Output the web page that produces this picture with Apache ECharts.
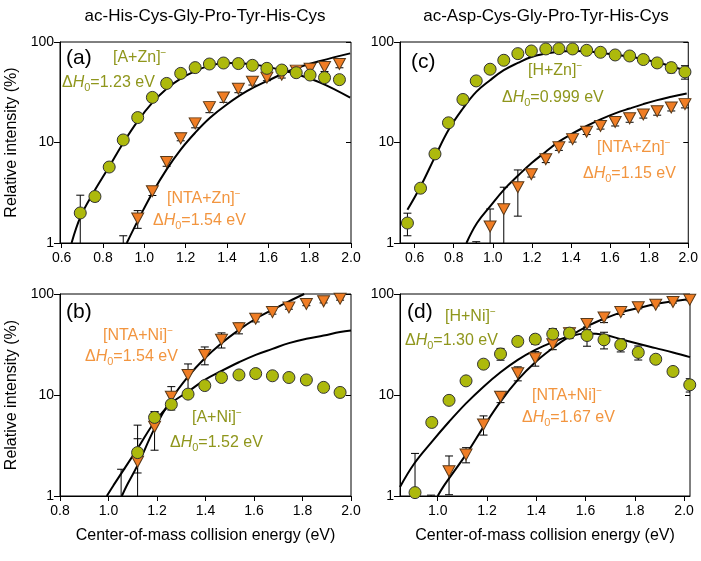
<!DOCTYPE html>
<html>
<head>
<meta charset="utf-8">
<script src="https://cdn.jsdelivr.net/npm/echarts@6/dist/echarts.min.js"></script>
<style>
  html, body { margin: 0; padding: 0; background: #fff; }
  #chart { width: 701px; height: 561px; }
</style>
</head>
<body>
<div id="chart"></div>
<script>
// ---- panel (a): ac-His-Cys-Gly-Pro-Tyr-His-Cys + Zn ----
const aGreenX = [0.69, 0.761, 0.83, 0.898, 0.968, 1.039, 1.108, 1.176, 1.246, 1.315, 1.383, 1.455, 1.523, 1.593, 1.665, 1.735, 1.802, 1.872, 1.944]
const aGreenY = [1.99, 2.9, 5.7, 10.6, 17.7, 28.1, 38.7, 48.7, 55.6, 60.4, 61.8, 61, 58.6, 54.7, 52.6, 49.5, 46.9, 44.2, 42.2]
const aGreenErr = [1.0, 0.3, 0.5, 0.6, 0.8, 1.0, 1.2, 1.5, 1.5, 1.5, 1.5, 1.5, 2, 2, 2.5, 3, 3, 3.5, 3.8]
const aOrangeX = [0.898, 0.968, 1.039, 1.108, 1.176, 1.246, 1.315, 1.383, 1.455, 1.523, 1.593, 1.665, 1.735, 1.802, 1.872, 1.944]
const aOrangeY = [0.85, 1.75, 3.27, 6.4, 11.0, 15.5, 22.5, 28.1, 34.3, 40.3, 44.2, 47.3, 51.9, 54.3, 56.4, 60.4]
const aOrangeErr = [0.33, 0.35, 0.3, 0.6, 0.6, 1.5, 2.7, 3, 3, 3, 3, 3.5, 4, 4.5, 5.5, 5]
const aGreenFitX = [0.648, 0.692, 0.753, 0.831, 0.898, 0.968, 1.039, 1.108, 1.176, 1.246, 1.318, 1.399, 1.496, 1.593, 1.722, 1.851, 1.996]
const aGreenFitY = [1.0, 1.84, 3.15, 5.8, 9.9, 16.3, 24.9, 34.3, 43.2, 51.4, 58.2, 61.8, 60.9, 56.9, 48.7, 39.4, 27.9]
const aOrangeFitX = [0.915, 0.979, 1.039, 1.108, 1.176, 1.246, 1.318, 1.399, 1.496, 1.593, 1.722, 1.851, 1.996]
const aOrangeFitY = [1.0, 1.84, 3.15, 5.4, 8.5, 12.5, 17.6, 23.9, 32.4, 40.8, 53.5, 64.7, 77.1]

// ---- panel (b): ac-His-Cys-Gly-Pro-Tyr-His-Cys + Ni ----
const bGreenX = [1.12, 1.19, 1.259, 1.328, 1.397, 1.466, 1.538, 1.607, 1.676, 1.744, 1.816, 1.887, 1.955]
const bGreenY = [2.69, 6.0, 8.07, 10.2, 12.4, 14.9, 15.8, 16.3, 15.5, 14.9, 14.1, 11.9, 10.6]
const bGreenErr = [1.0, 0.8, 0.5, 0.6, 0.5, 0.5, 0.5, 0.5, 0.5, 0.5, 0.6, 0.6, 1.0]
const bOrangeX = [1.052, 1.12, 1.19, 1.259, 1.328, 1.397, 1.466, 1.538, 1.607, 1.676, 1.744, 1.816, 1.887, 1.955]
const bOrangeY = [0.7, 2.18, 4.84, 9.6, 15.8, 24.9, 35.2, 45.9, 56.9, 66.2, 73.7, 79.6, 84.6, 89.9]
const bOrangeErr = [1.14, 2.85, 2.0, 2.5, 4.5, 5, 6, 5.6, 4, 3, 3, 3, 3, 3]
const bGreenFitX = [0.993, 1.021, 1.12, 1.19, 1.259, 1.328, 1.397, 1.466, 1.538, 1.607, 1.676, 1.744, 1.816, 1.887, 1.955, 2.0]
const bGreenFitY = [1.0, 1.28, 2.95, 5.4, 8.3, 10.8, 14.1, 17.3, 21.1, 25, 28.6, 32.6, 36, 38.8, 42, 43.6]
const bOrangeFitX = [1.055, 1.076, 1.12, 1.19, 1.259, 1.328, 1.397, 1.466, 1.538, 1.607, 1.676, 1.744, 1.807]
const bOrangeFitY = [1.0, 1.28, 2.02, 4.67, 9.1, 15.2, 23.1, 32.6, 44.2, 56.9, 69.8, 84.6, 100]

// ---- panel (c): ac-Asp-Cys-Gly-Pro-Tyr-His-Cys + Zn ----
const cGreenX = [0.563, 0.63, 0.704, 0.773, 0.847, 0.915, 0.986, 1.056, 1.128, 1.197, 1.271, 1.338, 1.408, 1.48, 1.551, 1.626, 1.7, 1.77, 1.841, 1.913, 1.983]
const cGreenY = [1.58, 3.51, 7.7, 15.7, 26.8, 41, 53.6, 65.8, 76.6, 81.4, 85.3, 85.9, 85.3, 82.6, 79, 74.3, 72.6, 66.9, 61.9, 55.6, 50.4]
const cGreenErr = [0.4, 0.3, 0.5, 1, 1.5, 2, 2, 2, 2, 2, 2, 2, 2, 2.5, 3, 3, 3, 4, 5.6, 6.3, 7.7]
const cOrangeX = [0.915, 0.986, 1.056, 1.128, 1.197, 1.271, 1.338, 1.408, 1.48, 1.551, 1.626, 1.7, 1.77, 1.841, 1.913, 1.983]
const cOrangeY = [0.9, 1.46, 2.17, 3.59, 4.83, 6.81, 8.95, 10.8, 12.8, 14.6, 16.0, 17.4, 19.0, 20.5, 22.3, 24.1]
const cOrangeErr = [0.13, 0.72, 1.42, 1.74, 0.3, 0.5, 0.6, 0.7, 0.8, 1.0, 1.4, 1.5, 1.5, 1.8, 1.7, 2]
const cGreenFitX = [0.563, 0.63, 0.704, 0.773, 0.847, 0.915, 0.986, 1.056, 1.128, 1.197, 1.271, 1.338, 1.408, 1.48, 1.551, 1.626, 1.7, 1.77, 1.841, 1.913, 1.992]
const cGreenFitY = [2.14, 3.65, 7.2, 13.3, 21.8, 31.9, 41.7, 52.4, 61.9, 71, 76.6, 80.2, 81.4, 80.8, 77.8, 74.8, 71.6, 67.3, 62.8, 57.4, 51.5]
const cOrangeFitX = [0.865, 0.919, 0.986, 1.056, 1.128, 1.197, 1.271, 1.338, 1.408, 1.48, 1.551, 1.626, 1.7, 1.77, 1.841, 1.913, 1.992]
const cOrangeFitY = [1.0, 1.58, 2.31, 3.38, 4.66, 6.21, 8.1, 10.2, 12.3, 14.6, 17.0, 19.5, 21.8, 24.1, 26.4, 28.5, 30.8]

// ---- panel (d): ac-Asp-Cys-Gly-Pro-Tyr-His-Cys + Ni ----
const dGreenX = [0.908, 0.976, 1.046, 1.115, 1.186, 1.255, 1.325, 1.396, 1.467, 1.535, 1.606, 1.675, 1.743, 1.814, 1.885, 1.955, 2.023]
const dGreenY = [1.08, 5.35, 8.85, 13.8, 20.2, 25.5, 33.9, 35.7, 40.1, 41.0, 38.8, 35.2, 31.4, 26.4, 22.6, 17.1, 12.6]
const dGreenErr = [1.56, 0.3, 0.5, 0.7, 1.0, 3.4, 2.0, 4.0, 5.4, 4.8, 8.4, 6.6, 4.7, 4.2, 2.0, 1.0, 1.9]
const dOrangeX = [0.973, 1.046, 1.115, 1.186, 1.255, 1.325, 1.396, 1.467, 1.535, 1.606, 1.675, 1.743, 1.814, 1.885, 1.955, 2.023]
const dOrangeY = [0.7, 1.76, 2.57, 5.11, 9.6, 16.4, 23.1, 31.8, 41.0, 50.4, 58.6, 66.2, 73.8, 78.3, 83.3, 87.8]
const dOrangeErr = [0.32, 0.73, 0.44, 1.1, 1.2, 2.6, 3.8, 3.7, 3.6, 6, 6.5, 3.5, 2.5, 2, 2, 2]
const dGreenFitX = [0.847, 0.905, 0.976, 1.046, 1.115, 1.186, 1.255, 1.325, 1.396, 1.467, 1.535, 1.606, 1.675, 1.743, 1.814, 1.885, 1.955, 2.024]
const dGreenFitY = [1.23, 2.1, 3.44, 5.43, 8.26, 12.1, 16.8, 22.3, 28, 33.4, 38.2, 40.6, 39.5, 35.7, 32.1, 29.1, 26.4, 23.7]
const dOrangeFitX = [1.0, 1.027, 1.118, 1.186, 1.255, 1.325, 1.396, 1.467, 1.535, 1.606, 1.675, 1.745, 1.814, 1.885, 1.955, 2.024]
const dOrangeFitY = [1.0, 1.28, 2.64, 4.84, 8.6, 14.1, 21.1, 29.1, 38, 47.8, 56.9, 65.8, 72.6, 79.6, 84.6, 89.2]

const yTicks = [1, 10, 100]
const titles = ['ac-His-Cys-Gly-Pro-Tyr-His-Cys', 'ac-Asp-Cys-Gly-Pro-Tyr-His-Cys']

const GREEN = '#adb90c'
const ORANGE = '#f07d24'
const GREEN_TXT = '#8f961c'
const ORANGE_TXT = '#f2953f'
const FONT = '"Liberation Sans", Arial, sans-serif'

const zip = (xs, ys, es) => xs.map((x, i) => es ? [x, ys[i], es[i]] : [x, ys[i]])
const range = (a, b) => { const r = []; for (let v = a; v <= b + 1e-9; v += 0.2) r.push(+v.toFixed(1)); return r }

const grids = [
  { left: 60, top: 42, width: 291, height: 201 },   // a
  { left: 60, top: 294, width: 291, height: 202 },  // b
  { left: 400, top: 42, width: 290, height: 201 },  // c
  { left: 400, top: 294, width: 290, height: 202 }  // d
].map(g => Object.assign(g, { show: true, borderColor: '#000', borderWidth: 1 }))

const xr = [[0.592, 2.0, 0.6], [0.8, 2.0, 0.8], [0.525, 2.0, 0.6], [0.847, 2.024, 1.0]]

const xAxes = xr.map((r, i) => {
  const ticks = range(r[2], 2.0)
  return {
    type: 'value', gridIndex: i, min: r[0], max: r[1],
    splitLine: { show: false },
    axisLine: { show: true, lineStyle: { color: '#000' } },
    axisTick: { show: true, length: 5, lineStyle: { color: '#000' }, customValues: ticks },
    axisLabel: { color: '#000', fontSize: 14, fontFamily: FONT, margin: 8, customValues: ticks, formatter: v => v.toFixed(1) },
    name: (i === 1 || i === 3) ? 'Center-of-mass collision energy (eV)' : '',
    nameLocation: 'middle', nameGap: 32,
    nameTextStyle: { color: '#000', fontSize: 16, fontFamily: FONT }
  }
})

const yAxes = []
grids.forEach((g, i) => {
  yAxes.push({
    type: 'log', logBase: 10, gridIndex: i, min: 1, max: 100,
    splitLine: { show: false }, minorTick: { show: false },
    axisLine: { show: true, lineStyle: { color: '#000' } },
    axisTick: { show: true, length: 6, lineStyle: { color: '#000' } },
    axisLabel: { color: '#000', fontSize: 14, fontFamily: FONT, margin: 6 },
    name: i < 2 ? 'Relative intensity (%)' : '',
    nameLocation: 'middle', nameGap: 40,
    nameTextStyle: { color: '#000', fontSize: 16, fontFamily: FONT }
  })
  yAxes.push({
    type: 'log', logBase: 10, gridIndex: i, min: 1, max: 100, position: 'right',
    splitLine: { show: false }, axisLine: { show: false },
    axisTick: { show: true, inside: true, length: 5, lineStyle: { color: '#000' } },
    axisLabel: { show: false }
  })
})

function renderErr(params, api) {
  const x = api.value(0), y = api.value(1), e = api.value(2)
  const cs = params.coordSys
  const yTop = cs.y, yBot = cs.y + cs.height
  const px = api.coord([x, y])[0]
  let hi = api.coord([x, y + e])[1]
  let lo = (y - e) > 0 ? api.coord([x, y - e])[1] : Infinity
  const kids = []
  const st = { stroke: '#000', lineWidth: 1 }
  const a = Math.max(hi, yTop), b = Math.min(lo, yBot)
  if (a < b) kids.push({ type: 'line', shape: { x1: px, y1: a, x2: px, y2: b }, style: st })
  if (hi >= yTop && hi <= yBot) kids.push({ type: 'line', shape: { x1: px - 4, y1: hi, x2: px + 4, y2: hi }, style: st })
  if (lo >= yTop && lo <= yBot) kids.push({ type: 'line', shape: { x1: px - 4, y1: lo, x2: px + 4, y2: lo }, style: st })
  return { type: 'group', children: kids }
}

const panels = [
  [aGreenX, aGreenY, aGreenErr, aOrangeX, aOrangeY, aOrangeErr, aGreenFitX, aGreenFitY, aOrangeFitX, aOrangeFitY],
  [bGreenX, bGreenY, bGreenErr, bOrangeX, bOrangeY, bOrangeErr, bGreenFitX, bGreenFitY, bOrangeFitX, bOrangeFitY],
  [cGreenX, cGreenY, cGreenErr, cOrangeX, cOrangeY, cOrangeErr, cGreenFitX, cGreenFitY, cOrangeFitX, cOrangeFitY],
  [dGreenX, dGreenY, dGreenErr, dOrangeX, dOrangeY, dOrangeErr, dGreenFitX, dGreenFitY, dOrangeFitX, dOrangeFitY]
]

const series = []
panels.forEach((p, i) => {
  const ax = { xAxisIndex: i, yAxisIndex: i * 2 }
  series.push(Object.assign({ type: 'line', data: zip(p[6], p[7]), smooth: 0.4, showSymbol: false, clip: true, z: 2,
    lineStyle: { color: '#000', width: 2 } }, ax))
  series.push(Object.assign({ type: 'line', data: zip(p[8], p[9]), smooth: 0.4, showSymbol: false, clip: true, z: 2,
    lineStyle: { color: '#000', width: 2 } }, ax))
  series.push(Object.assign({ type: 'custom', renderItem: renderErr, data: zip(p[3], p[4], p[5]), clip: true, z: 3 }, ax))
  series.push(Object.assign({ type: 'custom', renderItem: renderErr, data: zip(p[0], p[1], p[2]), clip: true, z: 3 }, ax))
  series.push(Object.assign({ type: 'scatter', data: zip(p[3], p[4]), symbol: 'triangle', symbolRotate: 180, symbolSize: [12, 11], clip: true, z: 4,
    itemStyle: { color: ORANGE, borderColor: '#5a3a1a', borderWidth: 1, opacity: 1 } }, ax))
  series.push(Object.assign({ type: 'scatter', data: zip(p[0], p[1]), symbol: 'circle', symbolSize: 12, clip: true, z: 5,
    itemStyle: { color: GREEN, borderColor: '#333', borderWidth: 1, opacity: 1 } }, ax))
})

const rich = (color) => ({
  i: { fontStyle: 'italic', fontSize: 16, lineHeight: 20, fontFamily: FONT, fill: color, verticalAlign: 'middle' },
  n: { fontSize: 16, lineHeight: 20, fontFamily: FONT, fill: color, verticalAlign: 'middle' },
  s: { fontSize: 11, lineHeight: 11, fontFamily: FONT, fill: color, verticalAlign: 'bottom' },
  u: { fontSize: 10, lineHeight: 10, fontFamily: FONT, fill: color, verticalAlign: 'top' }
})
const label = (x, y, text, color) => ({ type: 'text', x, y, z: 10,
  style: { text, fill: color, fontSize: 16, fontFamily: FONT, align: 'left', verticalAlign: 'middle', rich: rich(color) } })
const ion = (x, y, name, color) => label(x, y, '{n|' + name + '}{u|−}', color)
const dh = (x, y, val, color) => label(x, y, '{n|Δ}{i|H}{s|0}{n|=' + val + ' eV}', color)
const tag = (x, y, t) => ({ type: 'text', x, y, z: 10,
  style: { text: t, fill: '#000', fontSize: 21, fontFamily: FONT, align: 'left', verticalAlign: 'middle' } })

const graphics = [
  { type: 'text', x: 205, y: 16, style: { text: titles[0], fill: '#000', fontSize: 17, fontFamily: FONT, align: 'center', verticalAlign: 'middle' } },
  { type: 'text', x: 546, y: 16, style: { text: titles[1], fill: '#000', fontSize: 17, fontFamily: FONT, align: 'center', verticalAlign: 'middle' } },
  tag(66, 58, '(a)'), ion(113, 58, '[A+Zn]', GREEN_TXT), dh(62, 83, '1.23', GREEN_TXT),
  ion(167, 199, '[NTA+Zn]', ORANGE_TXT), dh(153, 221, '1.54', ORANGE_TXT),
  tag(66, 312, '(b)'), ion(103, 336, '[NTA+Ni]', ORANGE_TXT), dh(85, 357, '1.54', ORANGE_TXT),
  ion(192, 418, '[A+Ni]', GREEN_TXT), dh(170, 443, '1.52', GREEN_TXT),
  tag(411, 62, '(c)'), ion(528, 71, '[H+Zn]', GREEN_TXT), dh(502, 98, '0.999', GREEN_TXT),
  ion(597, 148, '[NTA+Zn]', ORANGE_TXT), dh(583, 174, '1.15', ORANGE_TXT),
  tag(407, 312, '(d)'), ion(445, 317, '[H+Ni]', GREEN_TXT), dh(405, 341, '1.30', GREEN_TXT),
  ion(532, 396, '[NTA+Ni]', ORANGE_TXT), dh(522, 418, '1.67', ORANGE_TXT)
]

const chart = echarts.init(document.getElementById('chart'), null, { renderer: 'canvas' })
const option = {
  animation: false,
  backgroundColor: '#fff',
  grid: grids,
  xAxis: xAxes,
  yAxis: yAxes,
  series: series,
  graphic: graphics
}
chart.setOption(option)
</script>
</body>
</html>
